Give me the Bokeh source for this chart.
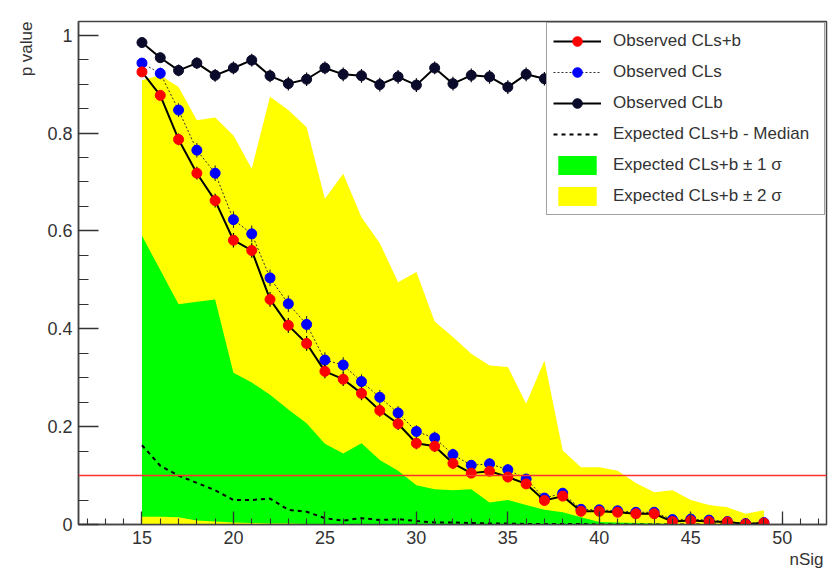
from bokeh.plotting import figure
from bokeh.models import (ColumnDataSource, FixedTicker, CustomJSTickFormatter,
                          Legend, LegendItem, Span, Range1d, Title)
from bokeh.embed import file_html
from bokeh.resources import INLINE

# Scan points of the signal yield
nsig = list(range(15, 50))

# Observed p-values
clsb = [0.925, 0.877, 0.787, 0.718, 0.662, 0.581, 0.560, 0.460, 0.407, 0.370,
        0.313, 0.297, 0.268, 0.233, 0.206, 0.166, 0.160, 0.125, 0.105, 0.109,
        0.097, 0.083, 0.049, 0.058, 0.027, 0.027, 0.025, 0.022, 0.022, 0.006,
        0.008, 0.006, 0.005, 0.001, 0.003]
clsb_err = [0.008, 0.010, 0.012, 0.013, 0.014, 0.015, 0.015, 0.015, 0.015, 0.015,
            0.014, 0.014, 0.014, 0.013, 0.013, 0.012, 0.012, 0.011, 0.010, 0.010,
            0.010, 0.009, 0.007, 0.008, 0.005, 0.005, 0.005, 0.005, 0.005, 0.003,
            0.003, 0.003, 0.002, 0.001, 0.002]
cls = [0.943, 0.922, 0.847, 0.765, 0.718, 0.623, 0.594, 0.504, 0.451, 0.409,
       0.336, 0.326, 0.292, 0.260, 0.228, 0.190, 0.177, 0.143, 0.121, 0.124,
       0.112, 0.093, 0.054, 0.064, 0.031, 0.030, 0.028, 0.025, 0.025, 0.010,
       0.011, 0.009, 0.006, 0.002, 0.004]
cls_err = [0.010, 0.012, 0.014, 0.015, 0.016, 0.017, 0.017, 0.017, 0.017, 0.017,
           0.016, 0.016, 0.015, 0.015, 0.014, 0.013, 0.013, 0.012, 0.011, 0.011,
           0.011, 0.010, 0.008, 0.009, 0.006, 0.006, 0.006, 0.006, 0.006, 0.004,
           0.004, 0.004, 0.003, 0.002, 0.002]
clb = [0.985, 0.954, 0.928, 0.943, 0.918, 0.933, 0.949, 0.917, 0.901, 0.910,
       0.933, 0.920, 0.917, 0.899, 0.915, 0.898, 0.933, 0.901, 0.918, 0.915,
       0.894, 0.920, 0.911, 0.906, 0.915, 0.922, 0.908, 0.913, 0.897, 0.918,
       0.905, 0.925, 0.911, 0.902, 0.916]
clb_err = [0.006, 0.010, 0.012, 0.012, 0.013, 0.013, 0.013, 0.013, 0.014, 0.014,
           0.013, 0.014, 0.014, 0.014, 0.014, 0.014, 0.013, 0.014, 0.014, 0.014,
           0.014, 0.014, 0.014, 0.014, 0.014, 0.014, 0.014, 0.014, 0.014, 0.014,
           0.014, 0.014, 0.014, 0.014, 0.014]

# Expected CLs+b: median and 1/2 sigma bands
exp_median = [0.162, 0.120, 0.100, 0.085, 0.070, 0.050, 0.050, 0.053, 0.030, 0.026,
              0.013, 0.008, 0.013, 0.009, 0.011, 0.007, 0.004, 0.004, 0.003, 0.002,
              0.002, 0.001, 0.001, 0.001, 0.001, 0.0, 0.0, 0.0, 0.0, 0.0,
              0.0, 0.0, 0.0, 0.0, 0.0]
band1_lo = [0.016, 0.016, 0.015, 0.008, 0.006, 0.004, 0.003, 0.002, 0.002, 0.001,
            0.001, 0.001, 0.001, 0.0005, 0.0005, 0.0, 0.0, 0.0, 0.0, 0.0,
            0.0, 0.0, 0.0, 0.0, 0.0, 0.0, 0.0, 0.0, 0.0, 0.0,
            0.0, 0.0, 0.0, 0.0, 0.0]
band1_hi = [0.590, 0.520, 0.450, 0.455, 0.460, 0.310, 0.290, 0.265, 0.235, 0.207,
            0.165, 0.145, 0.166, 0.132, 0.110, 0.080, 0.072, 0.070, 0.072, 0.045,
            0.050, 0.040, 0.030, 0.025, 0.015, 0.005, 0.004, 0.003, 0.002, 0.001,
            0.0, 0.0, 0.0, 0.0, 0.0]
band2_lo = [0.0] * 35
band2_hi = [0.908, 0.918, 0.894, 0.826, 0.832, 0.795, 0.727, 0.874, 0.847, 0.812,
            0.666, 0.717, 0.628, 0.575, 0.495, 0.516, 0.415, 0.383, 0.349, 0.325,
            0.322, 0.247, 0.335, 0.151, 0.117, 0.117, 0.110, 0.085, 0.066, 0.070,
            0.050, 0.040, 0.035, 0.022, 0.029]

cl_threshold = 0.1  # 1 - CL for a 90% confidence level

src = ColumnDataSource(dict(
    nsig=nsig,
    clsb=clsb, clsb_lo=[v - e for v, e in zip(clsb, clsb_err)],
    clsb_hi=[v + e for v, e in zip(clsb, clsb_err)],
    cls=cls, cls_lo=[v - e for v, e in zip(cls, cls_err)],
    cls_hi=[v + e for v, e in zip(cls, cls_err)],
    clb=clb, clb_lo=[v - e for v, e in zip(clb, clb_err)],
    clb_hi=[v + e for v, e in zip(clb, clb_err)],
    median=exp_median, b1lo=band1_lo, b1hi=band1_hi, b2lo=band2_lo, b2hi=band2_hi,
))

FONT = "Liberation Sans"
TXT = "#333333"

p = figure(width=835, height=574, output_backend="svg", toolbar_location=None,
           x_range=Range1d(11.53, 52.42), y_range=Range1d(0.0, 1.028),
           min_border_left=78, min_border_right=9, min_border_top=21,
           min_border_bottom=50, background_fill_color="white",
           border_fill_color="white")
p.grid.visible = False
p.outline_line_color = "#444444"
p.outline_line_width = 1.5

# Expected bands and median
yellow = p.varea(x="nsig", y1="b2lo", y2="b2hi", source=src, fill_color="#ffff00")
green = p.varea(x="nsig", y1="b1lo", y2="b1hi", source=src, fill_color="#00ff00")
median = p.line("nsig", "median", source=src, line_color="black", line_width=2,
                line_dash="4 4")

p.add_layout(Span(location=cl_threshold, dimension="width", line_color="#ff3030",
                  line_width=1.4))

# Observed CLs
cls_line = p.line("nsig", "cls", source=src, line_color="#333333", line_width=1,
                  line_dash="2 2")
p.segment(x0="nsig", y0="cls_lo", x1="nsig", y1="cls_hi", source=src,
          line_color="#222222", line_width=1)
cls_pts = p.scatter("nsig", "cls", source=src, size=10, fill_color="#0000ff",
                    line_color="#0000ff")

# Observed CLs+b
clsb_line = p.line("nsig", "clsb", source=src, line_color="black", line_width=2)
p.segment(x0="nsig", y0="clsb_lo", x1="nsig", y1="clsb_hi", source=src,
          line_color="black", line_width=1.2)
clsb_pts = p.scatter("nsig", "clsb", source=src, size=10, fill_color="#ff0000",
                     line_color="#ff0000")

# Observed CLb
clb_line = p.line("nsig", "clb", source=src, line_color="black", line_width=2)
p.segment(x0="nsig", y0="clb_lo", x1="nsig", y1="clb_hi", source=src,
          line_color="black", line_width=1.2)
clb_pts = p.scatter("nsig", "clb", source=src, size=10, fill_color="#0a0a2a",
                    line_color="#0a0a2a")

# Axes
for ax in (p.xaxis[0], p.yaxis[0]):
    ax.axis_line_color = "#444444"
    ax.axis_line_width = 1.5
    ax.major_tick_out = 0
    ax.minor_tick_out = 0
    ax.major_tick_line_color = "#333333"
    ax.minor_tick_line_color = "#333333"
    ax.major_tick_line_width = 1.3
    ax.minor_tick_line_width = 1.1
    ax.major_label_text_font = FONT
    ax.major_label_text_font_size = "18px"
    ax.major_label_text_color = TXT

p.xaxis.ticker = FixedTicker(ticks=[15, 20, 25, 30, 35, 40, 45, 50],
                             minor_ticks=list(range(12, 53)))
p.xaxis.major_tick_in = 13
p.xaxis.minor_tick_in = 6
p.xaxis.major_label_standoff = 6

p.yaxis.ticker = FixedTicker(ticks=[0.0, 0.2, 0.4, 0.6, 0.8, 1.0],
                             minor_ticks=[i * 0.05 for i in range(21)])
p.yaxis.major_tick_in = 20
p.yaxis.minor_tick_in = 10
p.yaxis.major_label_standoff = 6
p.yaxis.formatter = CustomJSTickFormatter(code="return String(Math.round(tick * 10) / 10);")

# Axis titles sit at the far end of each axis
p.add_layout(Title(text="nSig", align="right", standoff=3, offset=3,
                   text_font=FONT, text_font_size="17px", text_font_style="normal",
                   text_color=TXT), "below")
p.add_layout(Title(text="p value", align="right", standoff=17, offset=0,
                   text_font=FONT, text_font_size="17px", text_font_style="normal",
                   text_color=TXT), "left")

legend = Legend(items=[
    LegendItem(label="Observed CLs+b", renderers=[clsb_line, clsb_pts]),
    LegendItem(label="Observed CLs", renderers=[cls_line, cls_pts]),
    LegendItem(label="Observed CLb", renderers=[clb_line, clb_pts]),
    LegendItem(label="Expected CLs+b - Median", renderers=[median]),
    LegendItem(label="Expected CLs+b \u00b1 1 \u03c3", renderers=[green]),
    LegendItem(label="Expected CLs+b \u00b1 2 \u03c3", renderers=[yellow]),
], location="top_right", margin=1, padding=6, spacing=7, glyph_width=48,
    glyph_height=24, label_standoff=12, label_height=24, label_width=205,
    label_text_font=FONT, label_text_font_size="17px", label_text_color=TXT,
    border_line_color="#444444", border_line_width=1.5,
    background_fill_color="white", background_fill_alpha=1.0)
p.add_layout(legend)

open("out.html", "w").write(file_html(p, INLINE))
